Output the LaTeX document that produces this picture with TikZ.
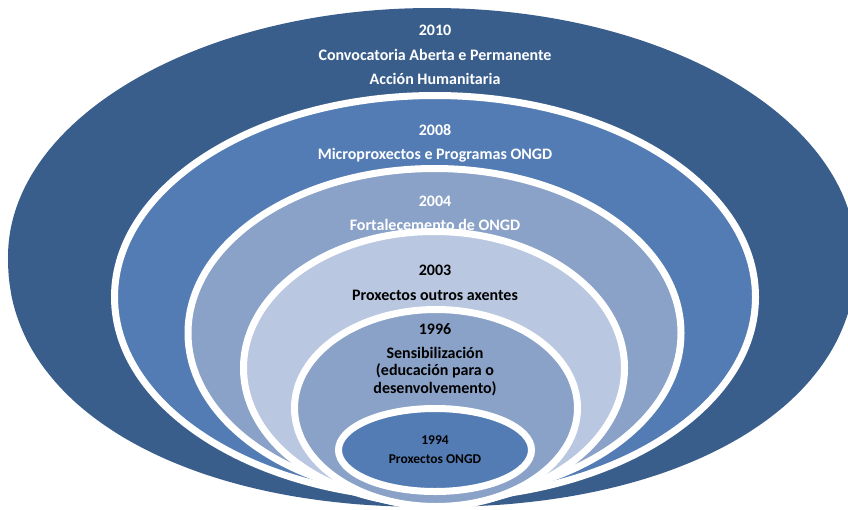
\documentclass[tikz,border=0pt]{standalone}
\usepackage{fontspec}
\setmainfont{Carlito}
\definecolor{cdark}{HTML}{3A5E8C}
\definecolor{cmid}{HTML}{537CB4}
\definecolor{clight}{HTML}{8AA2C8}
\definecolor{cpale}{HTML}{BAC7E0}
\begin{document}
\begin{tikzpicture}[x=1pt,y=-1pt,
  ring/.style={draw=white,line width=7pt},
  lbl/.style={font=\bfseries\fontsize{16}{19}\selectfont,align=center,inner sep=0pt,anchor=center},
  lblw/.style={lbl,text=white},
  lblb/.style={lbl,text=black},
  lbls/.style={font=\bfseries\fontsize{13.5}{16}\selectfont,align=center,inner sep=0pt,text=black}]
\useasboundingbox (0,0) rectangle (848,509);
\clip (0,0) rectangle (848,509);
% outer shape: elliptic top, slightly fuller bottom
\fill[cdark] (856,257) arc[start angle=0,end angle=180,x radius=424pt,y radius=249pt]
  -- plot[domain=179.99:0.01,samples=90,smooth]
     ({432+424*sign(cos(\x))*pow(abs(cos(\x)),0.93)},{257+250*pow(sin(\x),0.93)})
  -- cycle;
% rings, outermost first
\path[ring,fill=cmid]   (435,297)   ellipse [x radius=320.5pt, y radius=201.5pt];
\path[ring,fill=clight] (434.5,333) ellipse [x radius=246.5pt, y radius=164.5pt];
\path[ring,fill=cpale]  (434,368)   ellipse [x radius=190.5pt, y radius=136.5pt];
\path[ring,fill=clight] (436,408)   ellipse [x radius=141.5pt, y radius=98.5pt];
\path[ring,fill=cmid]   (435,450)   ellipse [x radius=96.5pt,  y radius=41.5pt];
% labels
\node[lblw] (y2010) at (435,30) {2010};
\node[lblw] (t2010a) at (435,55) {Convocatoria Aberta e Permanente};
\node[lblw] (t2010b) at (435,79) {Acción Humanitaria};
\node[lblw] (y2008) at (435,130) {2008};
\node[lblw] (t2008) at (435,155) {Microproxectos e Programas ONGD};
\node[lblw] (y2004) at (435,201) {2004};
\node[lblw] (t2004) at (435,225) {Fortalecemento de ONGD};
\node[lblb] (y2003) at (435,270) {2003};
\node[lblb] (t2003) at (435,295) {Proxectos outros axentes};
\node[lblb] (y1996) at (435,329) {1996};
\node[lblb] (t1996a) at (435,353) {Sensibilización};
\node[lblb] (t1996b) at (435,371) {(educación para o};
\node[lblb] (t1996c) at (435,389) {desenvolvemento)};
\node[lbls] (y1994) at (435,440) {1994};
\node[lbls] (t1994) at (435,459) {Proxectos ONGD};
\end{tikzpicture}
\end{document}
